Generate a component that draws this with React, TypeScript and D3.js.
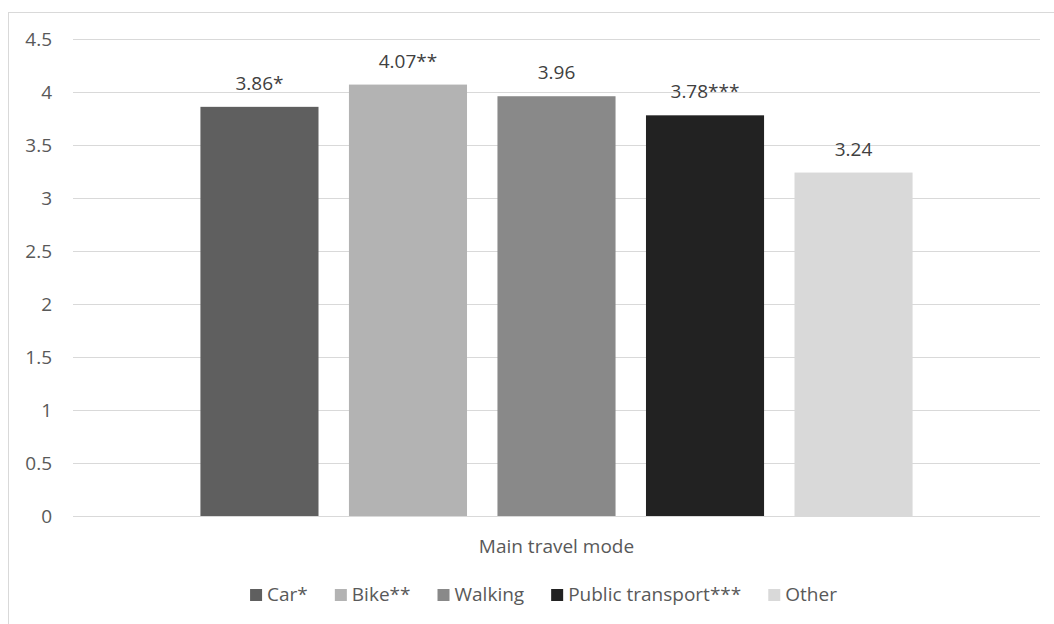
import React, { useEffect, useRef } from "react";
import * as d3 from "d3";

const categories = ["Car*", "Bike**", "Walking", "Public transport***", "Other"];
const values = [3.86, 4.07, 3.96, 3.78, 3.24];
const labels = ["3.86*", "4.07**", "3.96", "3.78***", "3.24"];
const colors = ["#5f5f5f", "#b3b3b3", "#898989", "#222222", "#d9d9d9"];
const yTicks = [0, 0.5, 1, 1.5, 2, 2.5, 3, 3.5, 4, 4.5];
const axisTitle = "Main travel mode";

const W = 1054;
const H = 624;
const FONT = "'Open Sans', sans-serif";
const FS = 19;

export default function App() {
  const ref = useRef<SVGSVGElement | null>(null);

  useEffect(() => {
    const svg = d3.select(ref.current);
    svg.selectAll("*").remove();

    const plotL = 73;
    const plotR = 1040;
    const y = d3.scaleLinear().domain([0, 4.5]).range([516, 39]);
    const x = d3
      .scaleBand<string>()
      .domain(categories)
      .range([plotL, plotR])
      .paddingInner(0.205)
      .paddingOuter(0.858);

    // chart border
    svg
      .append("rect")
      .attr("x", 8.5)
      .attr("y", 12.5)
      .attr("width", W + 20)
      .attr("height", H + 20)
      .attr("fill", "#fff")
      .attr("stroke", "#d9d9d9")
      .attr("stroke-width", 1);

    // gridlines
    svg
      .append("g")
      .selectAll("line")
      .data(yTicks)
      .join("line")
      .attr("x1", plotL)
      .attr("x2", plotR)
      .attr("y1", (d) => Math.round(y(d)) + 0.5)
      .attr("y2", (d) => Math.round(y(d)) + 0.5)
      .attr("stroke", "#d9d9d9")
      .attr("stroke-width", 1);

    // tick labels
    svg
      .append("g")
      .selectAll("text")
      .data(yTicks)
      .join("text")
      .attr("x", 52)
      .attr("y", (d) => y(d))
      .attr("dy", "0.35em")
      .attr("text-anchor", "end")
      .attr("font-family", FONT)
      .attr("font-size", FS)
      .attr("fill", "#595959")
      .text((d) => String(d));

    // bars
    svg
      .append("g")
      .selectAll("rect")
      .data(categories)
      .join("rect")
      .attr("x", (d) => x(d)!)
      .attr("width", x.bandwidth())
      .attr("y", (_, i) => y(values[i]))
      .attr("height", (_, i) => y(0) - y(values[i]))
      .attr("fill", (_, i) => colors[i]);

    // data labels
    svg
      .append("g")
      .selectAll("text")
      .data(categories)
      .join("text")
      .attr("x", (d) => x(d)! + x.bandwidth() / 2)
      .attr("y", (_, i) => y(values[i]) - 17)
      .attr("text-anchor", "middle")
      .attr("font-family", FONT)
      .attr("font-size", FS)
      .attr("fill", "#404040")
      .text((_, i) => labels[i]);

    // axis title
    svg
      .append("text")
      .attr("x", (plotL + plotR) / 2)
      .attr("y", 553)
      .attr("text-anchor", "middle")
      .attr("font-family", FONT)
      .attr("font-size", FS)
      .attr("fill", "#595959")
      .text(axisTitle);

    // legend
    const lg = svg.append("g");
    const sw = 12;
    const gap = 5;
    const itemGap = 27;
    const items = categories.map((c, i) => {
      const g = lg.append("g");
      g.append("rect")
        .attr("x", 0)
        .attr("y", 589)
        .attr("width", sw)
        .attr("height", sw)
        .attr("fill", colors[i]);
      const t = g
        .append("text")
        .attr("x", sw + gap)
        .attr("y", 601)
        .attr("font-family", FONT)
        .attr("font-size", FS)
        .attr("fill", "#595959")
        .text(c);
      const w = (t.node() as SVGTextElement).getComputedTextLength();
      return { g, w: sw + gap + w };
    });
    const total = d3.sum(items, (d) => d.w) + itemGap * (items.length - 1);
    let cx = 543.5 - total / 2;
    items.forEach((it) => {
      it.g.attr("transform", `translate(${cx},0)`);
      cx += it.w + itemGap;
    });
  }, []);

  return (
    <svg
      ref={ref}
      width={W}
      height={H}
      style={{ position: "absolute", left: 0, top: 0, background: "#fff" }}
    />
  );
}
